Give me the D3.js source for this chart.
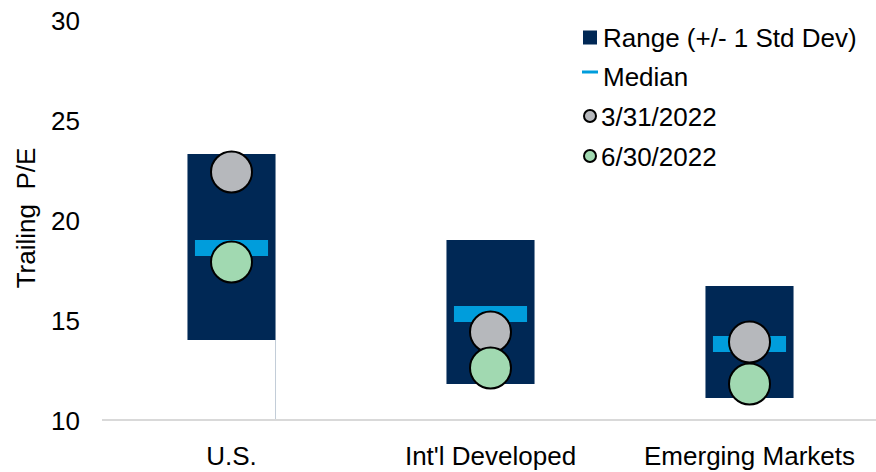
<!DOCTYPE html>
<html>
<head>
<meta charset="utf-8">
<script src="https://cdn.jsdelivr.net/npm/d3@7"></script>
<style>
  body { margin: 0; background: #fff; }
  svg text { font-family: "Liberation Sans", Arial, sans-serif; fill: #000; }
</style>
</head>
<body>
<div id="chart"></div>
<script>
// data
var categories = ["U.S.", "Int'l Developed", "Emerging Markets"]
var rangeLow = [14.0, 11.8, 11.1]
var rangeHigh = [23.3, 19.0, 16.7]
var medians = [18.6, 15.3, 13.8]
var mar2022 = [22.4, 14.4, 13.9]
var jun2022 = [17.9, 12.6, 11.8]
var yTicks = [10, 15, 20, 25, 30]
var legendLabels = ["Range (+/- 1 Std Dev)", "Median", "3/31/2022", "6/30/2022"]

var width = 876
var height = 472
var fontSize = "26px"
var navy = "#002855", blue = "#009ddc", gray = "#b6b8bc", green = "#a1d9b1"

var svg = d3.select("#chart")
  .append("svg")
    .attr("width", width)
    .attr("height", height)

var x = d3.scaleBand()
  .domain(categories)
  .range([102, 879])
  .paddingInner(0.66)
  .paddingOuter(0.33)

var y = d3.scaleLinear()
  .domain([10, 30])
  .range([420, 20])

var rows = categories.map(function(c, i) {
  return { cat: c, lo: rangeLow[i], hi: rangeHigh[i], med: medians[i], a: mar2022[i], b: jun2022[i] }
})

// leftover edge of the hidden base bar on U.S.
svg.append("line")
  .attr("x1", x(categories[0]) + x.bandwidth())
  .attr("x2", x(categories[0]) + x.bandwidth())
  .attr("y1", y(rangeLow[0]))
  .attr("y2", y(10))
  .attr("stroke", "#c3cdd8")
  .attr("stroke-width", 1)

// axis line
svg.append("line")
  .attr("x1", 102).attr("x2", width)
  .attr("y1", y(10)).attr("y2", y(10))
  .attr("stroke", "#d9d9d9")
  .attr("stroke-width", 2)

// y tick labels
svg.append("g")
  .selectAll("text")
  .data(yTicks)
  .enter()
  .append("text")
    .attr("x", 80)
    .attr("y", function(d){ return y(d) + 9.5 })
    .attr("text-anchor", "end")
    .style("font-size", fontSize)
    .text(function(d){ return d })

// y title
svg.append("text")
  .attr("transform", "translate(35," + 218 + ") rotate(-90)")
  .attr("text-anchor", "middle")
  .style("font-size", fontSize)
  .style("white-space", "pre")
  .text("Trailing  P/E")

// x labels
svg.append("g")
  .selectAll("text")
  .data(categories)
  .enter()
  .append("text")
    .attr("x", function(d){ return x(d) + x.bandwidth() / 2 })
    .attr("y", 465)
    .attr("text-anchor", "middle")
    .style("font-size", fontSize)
    .text(function(d){ return d })

// range bars
svg.append("g")
  .selectAll("rect")
  .data(rows)
  .enter()
  .append("rect")
    .attr("x", function(d){ return x(d.cat) })
    .attr("width", x.bandwidth())
    .attr("y", function(d){ return y(d.hi) })
    .attr("height", function(d){ return y(d.lo) - y(d.hi) })
    .attr("fill", navy)

// median bars
var medW = x.bandwidth() * 0.83
svg.append("g")
  .selectAll("rect")
  .data(rows)
  .enter()
  .append("rect")
    .attr("x", function(d){ return x(d.cat) + (x.bandwidth() - medW) / 2 })
    .attr("width", medW)
    .attr("y", function(d){ return y(d.med) - 8 })
    .attr("height", 16)
    .attr("fill", blue)

// points
function dots(key, fill) {
  svg.append("g")
    .selectAll("circle")
    .data(rows)
    .enter()
    .append("circle")
      .attr("cx", function(d){ return x(d.cat) + x.bandwidth() / 2 })
      .attr("cy", function(d){ return y(d[key]) })
      .attr("r", 20.5)
      .attr("fill", fill)
      .attr("stroke", "#000")
      .attr("stroke-width", 2)
}
dots("a", gray)
dots("b", green)

// legend
var legend = svg.append("g")
var rowY = [37.5, 76, 116, 156]
legendLabels.forEach(function(label, i) {
  var cy = rowY[i]
  if (i == 0) {
    legend.append("rect").attr("x", 583).attr("y", cy - 7).attr("width", 14).attr("height", 14).attr("fill", navy)
  } else if (i == 1) {
    legend.append("rect").attr("x", 582).attr("y", cy - 5.5).attr("width", 16).attr("height", 3).attr("fill", blue)
  } else {
    legend.append("circle").attr("cx", 590).attr("cy", cy).attr("r", 6)
      .attr("fill", i == 2 ? gray : green).attr("stroke", "#000").attr("stroke-width", 2)
  }
  legend.append("text")
    .attr("x", i < 2 ? 603 : 601)
    .attr("y", cy + 9.5)
    .style("font-size", fontSize)
    .text(label)
})
</script>
</body>
</html>
